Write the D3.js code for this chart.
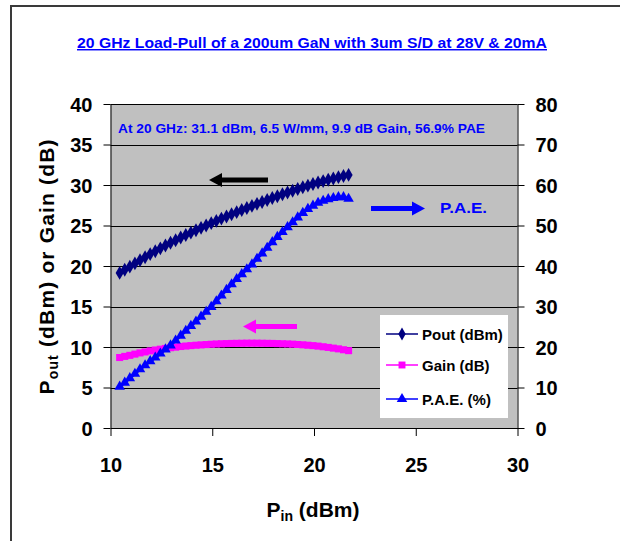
<!DOCTYPE html>
<html>
<head>
<meta charset="utf-8">
<script src="https://cdn.jsdelivr.net/npm/d3@7"></script>
<style>
  body { margin: 0; background: #fff; }
  text { font-family: "Liberation Sans", Arial, sans-serif; font-weight: bold; }
</style>
</head>
<body>
<svg width="620" height="541"></svg>
<script>
// chart values
var pin = [10.45, 10.70, 10.95, 11.20, 11.45, 11.70, 11.95, 12.20, 12.45, 12.70,
  12.95, 13.20, 13.45, 13.70, 13.95, 14.20, 14.45, 14.70, 14.95, 15.20,
  15.45, 15.70, 15.95, 16.20, 16.45, 16.70, 16.95, 17.20, 17.45, 17.70,
  17.95, 18.20, 18.45, 18.70, 18.95, 19.20, 19.45, 19.70, 19.95, 20.20,
  20.45, 20.70, 20.95, 21.20, 21.45, 21.70];

var pout = [19.15, 19.54, 19.92, 20.32, 20.72, 21.09, 21.47, 21.83, 22.18, 22.52,
  22.86, 23.18, 23.51, 23.82, 24.12, 24.42, 24.71, 25.00, 25.29, 25.57,
  25.85, 26.12, 26.39, 26.65, 26.91, 27.17, 27.42, 27.67, 27.91, 28.15,
  28.39, 28.62, 28.85, 29.08, 29.30, 29.51, 29.72, 29.92, 30.12, 30.31,
  30.48, 30.65, 30.81, 30.97, 31.11, 31.25];

var gain = [8.70, 8.84, 8.97, 9.12, 9.27, 9.39, 9.52, 9.63, 9.73, 9.82,
  9.91, 9.98, 10.06, 10.12, 10.17, 10.22, 10.26, 10.30, 10.34, 10.37,
  10.40, 10.42, 10.44, 10.45, 10.46, 10.47, 10.47, 10.47, 10.46, 10.45,
  10.44, 10.42, 10.40, 10.38, 10.35, 10.31, 10.27, 10.22, 10.17, 10.11,
  10.03, 9.95, 9.86, 9.77, 9.66, 9.55];

var pae = [10.2, 11.2, 12.3, 13.4, 14.5, 15.5, 16.5, 17.4, 18.4, 19.4,
  20.4, 21.6, 22.8, 24.0, 25.2, 26.3, 27.5, 28.7, 29.9, 31.3,
  32.7, 34.1, 35.5, 36.8, 38.0, 39.2, 40.4, 41.8, 43.1, 44.5,
  45.9, 47.2, 48.4, 49.6, 50.8, 52.0, 53.1, 54.1, 54.9, 55.6,
  56.1, 56.5, 56.8, 57.0, 57.0, 56.6];

var xTicks = [10, 15, 20, 25, 30];
var leftTicks = [0, 5, 10, 15, 20, 25, 30, 35, 40];
var rightTicks = [0, 10, 20, 30, 40, 50, 60, 70, 80];

var titleText = "20 GHz Load-Pull of a 200um GaN with 3um S/D at 28V & 20mA";
var noteText = "At 20 GHz: 31.1 dBm, 6.5 W/mm, 9.9 dB Gain, 56.9% PAE";
var legendNames = ["Pout (dBm)", "Gain (dB)", "P.A.E. (%)"];

var svg = d3.select("svg");

// outer chart frame
svg.append("path").attr("d", "M11,545 L11,6 L625,6")
  .attr("fill", "none").attr("stroke", "#3a3a3a").attr("stroke-width", 2);

// plot box
var plotLeft = 110.5, plotRight = 517.5, plotTop = 104, plotBottom = 428;
let xScale = d3.scaleLinear().domain([10, 30]).range([plotLeft, plotRight]);
let yLeft = d3.scaleLinear().domain([0, 40]).range([plotBottom, plotTop]);
let yRight = d3.scaleLinear().domain([0, 80]).range([plotBottom, plotTop]);

// plot background
svg.append("rect").attr("x", plotLeft).attr("y", plotTop)
  .attr("width", plotRight - plotLeft).attr("height", plotBottom - plotTop).attr("fill", "#c0c0c0");

// grid lines
svg.append("g").selectAll("line").data(leftTicks.slice(1)).enter().append("line")
  .attr("x1", plotLeft).attr("x2", plotRight)
  .attr("y1", d => Math.round(yLeft(d)) + 0.5).attr("y2", d => Math.round(yLeft(d)) + 0.5)
  .attr("stroke", "#000").attr("stroke-width", 1);

// axes
function styleAxis(g, dy) {
  g.selectAll("text").attr("font-size", 20).attr("fill", "#000").attr("dy", dy)
    .style("font-family", "Liberation Sans, Arial, sans-serif").style("font-weight", "bold");
  g.selectAll("line, path").attr("stroke", "#000");
}

let x_Axis = d3.axisBottom(xScale).tickValues(xTicks).tickSize(8).tickSizeOuter(0).tickPadding(22);
svg.append("g").attr("transform", "translate(0," + plotBottom + ")").call(x_Axis).call(styleAxis, "0.71em");

let y_Axis = d3.axisLeft(yLeft).tickValues(leftTicks).tickSize(7).tickSizeOuter(0).tickPadding(11);
svg.append("g").attr("transform", "translate(" + plotLeft + ",0)").call(y_Axis).call(styleAxis, "0.36em");

let y2_Axis = d3.axisRight(yRight).tickValues(rightTicks).tickSize(7).tickSizeOuter(0).tickPadding(11);
svg.append("g").attr("transform", "translate(" + plotRight + ",0)").call(y2_Axis).call(styleAxis, "0.36em");

// series
var colPout = "#000080", colGain = "#ff00ff", colPae = "#0000ff";

function drawSeries(ys, yScale, color, symbol, size) {
  let line = d3.line().x((d, i) => xScale(pin[i])).y(d => yScale(d));
  svg.append("path").datum(ys).attr("d", line)
    .attr("fill", "none").attr("stroke", color).attr("stroke-width", 3);
  svg.append("g").selectAll("path").data(ys).enter().append("path")
    .attr("transform", (d, i) => "translate(" + xScale(pin[i]) + "," + yScale(d) + ")")
    .attr("d", d3.symbol().type(symbol).size(size)).attr("fill", color);
}

drawSeries(gain, yLeft, colGain, d3.symbolSquare, 50);
drawSeries(pae, yRight, colPae, d3.symbolTriangle, 48);
drawSeries(pout, yLeft, colPout, d3.symbolDiamond, 56);

// arrows
function arrow(x1, x2, y, color) {
  var dir = x2 < x1 ? -1 : 1;
  var head = 13;
  svg.append("line").attr("x1", x1).attr("x2", x2 - dir * head).attr("y1", y).attr("y2", y)
    .attr("stroke", color).attr("stroke-width", 5);
  svg.append("path")
    .attr("d", "M" + x2 + "," + y + " L" + (x2 - dir * head) + "," + (y - 7) + " L" + (x2 - dir * head) + "," + (y + 7) + " Z")
    .attr("fill", color);
}
arrow(268, 209, 180, "#000");
arrow(297, 243, 326.5, colGain);
arrow(371, 425, 208.5, colPae);

svg.append("text").attr("x", 440).attr("y", 213).attr("font-size", 15)
  .attr("fill", colPae).attr("textLength", 47).attr("lengthAdjust", "spacingAndGlyphs").text("P.A.E.");

// title and note
svg.append("text").attr("x", 77).attr("y", 48).attr("font-size", 14.5)
  .attr("fill", "#0000ff").attr("text-decoration", "underline")
  .attr("textLength", 470).attr("lengthAdjust", "spacingAndGlyphs").text(titleText);

svg.append("text").attr("x", 118).attr("y", 133).attr("font-size", 13.5)
  .attr("fill", "#0000ff").attr("textLength", 367).attr("lengthAdjust", "spacingAndGlyphs")
  .text(noteText);

// axis titles
var yt = svg.append("text").attr("transform", "translate(54,267) rotate(-90)")
  .attr("text-anchor", "middle").attr("font-size", 21).attr("fill", "#000")
  .attr("textLength", 255).attr("lengthAdjust", "spacing");
yt.append("tspan").text("P");
yt.append("tspan").attr("font-size", 14).attr("dy", 4).text("out");
yt.append("tspan").attr("dy", -4).text(" (dBm) or Gain (dB)");

var xt = svg.append("text").attr("x", 313).attr("y", 517)
  .attr("text-anchor", "middle").attr("font-size", 21).attr("fill", "#000");
xt.append("tspan").text("P");
xt.append("tspan").attr("font-size", 14).attr("dy", 4).text("in");
xt.append("tspan").attr("dy", -4).text(" (dBm)");

// legend
var legend = svg.append("g");
legend.append("rect").attr("x", 380).attr("y", 315).attr("width", 128).attr("height", 103).attr("fill", "#fff");
var legColors = [colPout, colGain, colPae];
var legSymbols = [d3.symbolDiamond, d3.symbolSquare, d3.symbolTriangle];
var legY = [334, 365, 399];
legendNames.forEach(function (name, i) {
  legend.append("line").attr("x1", 386).attr("x2", 418).attr("y1", legY[i]).attr("y2", legY[i])
    .attr("stroke", legColors[i]).attr("stroke-width", 1.5);
  legend.append("path").attr("transform", "translate(402," + legY[i] + ")")
    .attr("d", d3.symbol().type(legSymbols[i]).size(48)).attr("fill", legColors[i]);
  legend.append("text").attr("x", 422).attr("y", legY[i] + 5.5).attr("font-size", 15)
    .attr("fill", "#000").text(name);
});
</script>
</body>
</html>
